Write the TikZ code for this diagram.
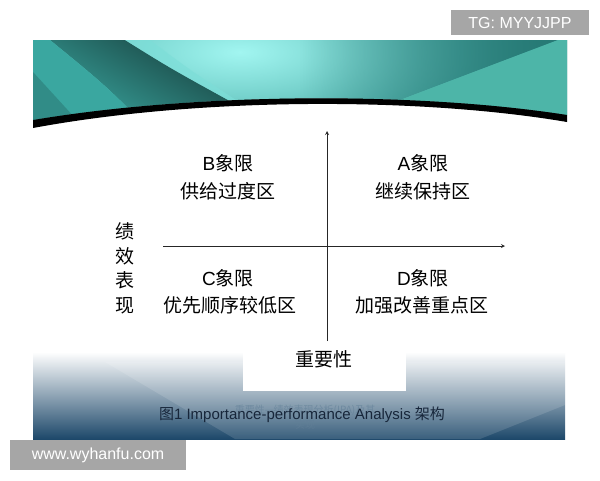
\documentclass[tikz,border=0pt]{standalone}
\usepackage{fontspec}
\setmainfont{Liberation Sans}
\newfontfamily\cjk{Noto Sans CJK SC}
\usetikzlibrary{fadings}
\definecolor{tealL}{HTML}{3AA7A0}
\definecolor{tealM}{HTML}{45BBB3}
\definecolor{tealR}{HTML}{2E8E89}
\definecolor{tealHi}{HTML}{A2F6F1}
\definecolor{tealDk}{HTML}{173F3D}
\definecolor{tealLt}{HTML}{4DB5A8}
\definecolor{bandMid}{HTML}{93ABBF}
\definecolor{bandBot}{HTML}{1D486A}
\definecolor{capText}{HTML}{17263A}
\definecolor{tagGray}{HTML}{A6A6A6}
\tikzfading[name=glow,inner color=transparent!0,outer color=transparent!100]
\tikzfading[name=fromleft,left color=transparent!100,right color=transparent!0]

\begin{document}
\begin{tikzpicture}[x=1pt,y=-1pt]
    \tikzstyle{quad}=[font=\fontsize{19}{24}\selectfont,inner sep=0pt];
    \tikzstyle{axis}=[draw=black!85,line width=0.8pt,-stealth];
    \tikzstyle{tag}=[fill=tagGray,text=white,inner sep=0pt,font=\fontsize{16}{16}\selectfont];
    \tikzstyle{faint}=[text=bandBot!70!white,opacity=0.6,font=\fontsize{10}{10}\selectfont\cjk];
    \useasboundingbox (0,0) rectangle (600,480);
    \fill[white] (0,0) rectangle (600,480);

    \begin{scope}
    \clip (33,40) -- (567,40) -- (567,115) .. controls (420,92) and
    (200,92) .. (33,120) -- cycle; \fill[left color=tealL,middle
    color=tealM,right color=tealR] (33,40) rectangle (567,130);
    \fill[tealHi,path fading=glow] (240,52) ellipse (300 and 110);
    \shade[top color=tealL,bottom color=tealDk,shading angle=150]
    (50,40) -- (125,40) .. controls (170,68) .. (228,100) -- (245,130)
    -- (150,130) .. controls (105,85) .. (50,40) -- cycle;
    \fill[tealL] (33,40) -- (50,40) .. controls (105,85) .. (150,130)
    -- (33,130) -- cycle; \fill[tealHi!60!tealM,opacity=0.7] (125,40)
    -- (150,40) .. controls (190,70) .. (236,100) -- (228,100) ..
    controls (170,68) .. cycle; \fill[tealDk,opacity=0.25] (33,72) --
    (75,118) -- (33,125) -- cycle; \fill[tealR!85!black,path
    fading=fromleft] (300,40) -- (558,40) -- (400,100) -- (300,100) --
    cycle; \fill[tealLt] (558,40) -- (567,40) -- (567,125) -- (400,100)
    -- cycle;
    \end{scope}
    \fill[black] (567,115) .. controls (420,92) and (200,92) .. (33,120)
    -- (33,128) .. controls (200,97) and (420,97) .. (567,122) -- cycle;

    \fill[top color=white,middle color=bandMid,bottom color=bandBot]
    (33,352) rectangle (565,439); \fill[white,opacity=0.13] (105,362)
    -- (565,362) -- (565,405) -- (480,439) -- (235,439) -- cycle;
    \fill[white] (243,330) rectangle (406,391);

    \node (tg) [tag,minimum width=138pt,minimum height=25pt] at
    (520,22.5) {TG: MYYJJPP}; \node (web) [tag,minimum
    width=176pt,minimum height=30pt] at (98,455) {www.wyhanfu.com};

    \coordinate (xl) at (163,246); \coordinate (xr) at (505,246);
    \coordinate (yb) at (327,341); \coordinate (yt) at (327,131);

    \node (B) [quad] at (228,163) {B\cjk 象限}; \node (Bd) [quad] at
    (228,191) {\cjk 供给过度区}; \node (A) [quad] at (423,163) {A\cjk
    象限}; \node (Ad) [quad] at (423,191) {\cjk 继续保持区};

    \node (C) [quad] at (228,278) {C\cjk 象限}; \node (Cd) [quad] at
    (230,305) {\cjk 优先顺序较低区}; \node (D) [quad] at (423,278)
    {D\cjk 象限}; \node (Dd) [quad] at (422,305) {\cjk 加强改善重点区};

    \node (perf) [quad,align=center,font=\fontsize{19}{24.5}\selectfont\cjk]
    at (125,268.5) {绩\\效\\表\\现}; \node (imp) [quad] at (324,359)
    {\cjk 重要性};

    \node (capa) [faint] at (305,410) {重要性—绩效表现分析(IPA)及其};
    \node (capb) [faint] at (305,425) {实现}; \node (cap)
    [text=capText,font=\fontsize{15}{15}\selectfont] at (302,415)
    {{\cjk 图}1 Importance-performance Analysis {\cjk 架构}};

    \path (xl) edge[axis] (xr) (yb) edge[axis] (yt);
  \end{tikzpicture}
\end{document}
